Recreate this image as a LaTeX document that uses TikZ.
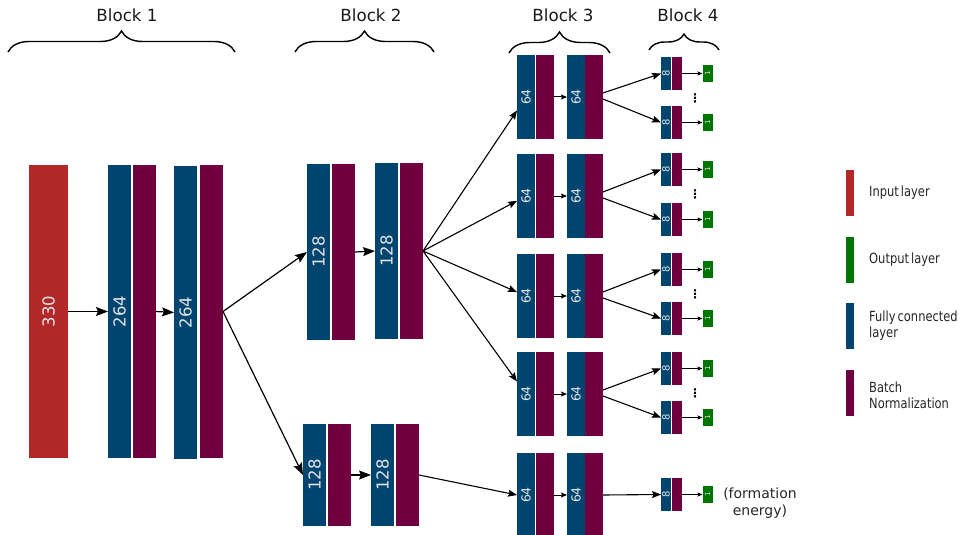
\documentclass[tikz,border=0pt]{standalone}
\usepackage{fontspec}
\setmainfont{DejaVu Sans}
\newfontfamily\legendfont{DejaVu Sans}[FakeStretch=0.82,WordSpace=0.55]
\usetikzlibrary{arrows.meta,decorations.pathreplacing,calc}
\definecolor{fcblue}{RGB}{0,68,112}
\definecolor{bnpurple}{RGB}{112,0,64}
\definecolor{inred}{RGB}{178,40,40}
\definecolor{outgreen}{RGB}{0,118,0}
\definecolor{numtext}{RGB}{228,228,228}
\begin{document}
\begin{tikzpicture}[x=1pt,y=-1pt,
 lyr/.style={inner sep=0pt, outer sep=0pt, text=numtext},
 fc/.style={lyr, fill=fcblue},
 bn/.style={lyr, fill=bnpurple},
 inp/.style={lyr, fill=inred},
 outp/.style={lyr, fill=outgreen},
 hTall/.style={minimum width=23pt, minimum height=293pt},
 hMid/.style={minimum width=23pt, minimum height=176pt},
 hLow/.style={minimum width=23pt, minimum height=102pt},
 hBthree/.style={minimum width=18pt, minimum height=84pt},
 hBfour/.style={minimum width=10pt, minimum height=33pt},
 hOut/.style={minimum width=10pt, minimum height=17pt},
 nBig/.style={font=\fontsize{16.5}{16.5}\selectfont},
 nMed/.style={font=\fontsize{12.5}{12.5}\selectfont},
 nSmall/.style={font=\fontsize{10}{10}\selectfont},
 nTiny/.style={font=\fontsize{7}{7}\selectfont},
 arrbig/.style={-{Stealth[length=12pt,width=9pt,inset=2pt]}, line width=1.2pt},
 arrmid/.style={-{Stealth[length=9pt,width=7pt,inset=1.5pt]}, line width=1.1pt},
 arrsmall/.style={-{Stealth[length=6pt,width=5pt,inset=1pt]}, line width=1pt},
 arrtiny/.style={-{Stealth[length=5pt,width=4pt,inset=1pt]}, line width=1pt},
 blockbrace/.style={decorate, decoration={brace, amplitude=#1}, line width=1.4pt},
 blocklabel/.style={font=\fontsize{16.7}{16.7}\selectfont, text=black!90},
 legtext/.style={anchor=west, inner sep=0pt, align=left, font=\legendfont\fontsize{14}{16}\selectfont, text=black!85},
 dotsym/.style={inner sep=0pt, font=\fontsize{12}{12}\selectfont\bfseries},
]
\useasboundingbox (0,0) rectangle (959,535);

% block labels and braces
\node[blocklabel] (l1) at (127,15) {Block 1};
\node[blocklabel] (l2) at (371,15) {Block 2};
\node[blocklabel] (l3) at (563,15) {Block 3};
\node[blocklabel] (l4) at (688,15) {Block 4};
\draw[blockbrace=21pt] (8,52) -- (235,52);
\draw[blockbrace=21pt] (295,52) -- (434,52);
\draw[blockbrace=21pt] (509,53) -- (610,53);
\draw[blockbrace=16pt] (649,50) -- (719,50);

% block 1
\node[inp, hTall, minimum width=39pt, nBig] (inp) at (48.5,311.5) {\rotatebox{90}{330}};
\node[fc, hTall, nBig] (f1) at (119.5,311.5) {\rotatebox{90}{264}};
\node[bn, hTall] (b1) at (144.5,311.5) {};
\node[fc, hTall, nBig] (f2) at (185.5,312.5) {\rotatebox{90}{264}};
\node[bn, hTall] (b2) at (211.5,311.5) {};
\draw[arrbig] (inp.east) -- (f1.west);
\draw[arrbig] (b1.east) -- (f2.west);

% block 2
\node[fc, hMid, nBig] (f3) at (318.5,252) {\rotatebox{90}{128}};
\node[bn, hMid] (b3) at (343.5,252) {};
\node[fc, hMid, nBig] (f4) at (386.5,251) {\rotatebox{90}{128}};
\node[bn, hMid] (b4) at (411.5,251) {};
\node[fc, hLow, nBig] (f5) at (314.5,475) {\rotatebox{90}{128}};
\node[bn, hLow] (b5) at (339.5,475) {};
\node[fc, hLow, nBig] (f6) at (382.5,475) {\rotatebox{90}{128}};
\node[bn, hLow] (b6) at (407.5,475) {};
\draw[arrbig] (b2.east) -- (f3.west);
\draw[arrbig] (b2.east) -- (f5.west);
\draw[arrbig] (b3.east) -- (f4.west);
\draw[arrbig] (b5.east) -- (f6.west);

% block 3
\foreach \r/\y in {1/97,2/196,3/296,4/394,5/495}{
  \node[fc, hBthree, nMed] (ra\r) at (526,\y) {\rotatebox{90}{64}};
  \node[bn, hBthree] (rb\r) at (545,\y) {};
  \node[fc, hBthree, nMed] (rc\r) at (576,\y) {\rotatebox{90}{64}};
  \node[bn, hBthree] (rd\r) at (594,\y) {};
  \draw[arrsmall] (rb\r.east) -- (rc\r.west);
}
\foreach \r in {1,2,3,4}{
  \draw[arrmid] (b4.east) -- (ra\r);
}
\draw[arrmid] (b6.east) -- (ra5.west);

% block 4
\foreach \r/\ya/\yb in {1/73.5/122.5,2/169.5/219.5,3/269.5/318.5,4/368.5/417.5}{
  \node[fc, hBfour, nSmall] (ea\r) at (666,\ya) {\rotatebox{90}{8}};
  \node[bn, hBfour] (eb\r) at (677,\ya) {};
  \node[fc, hBfour, nSmall] (ec\r) at (666,\yb) {\rotatebox{90}{8}};
  \node[bn, hBfour] (ed\r) at (677,\yb) {};
  \node[outp, hOut, nTiny] (ga\r) at (707.5,\ya) {\rotatebox{90}{1}};
  \node[outp, hOut, nTiny] (gb\r) at (707.5,\yb) {\rotatebox{90}{1}};
  \node[dotsym] (dt\r) at ($(ga\r.west)!0.5!(gb\r.west)+(-7.5,0)$) {⋮};
  \draw[arrmid] ($(rd\r.east)+(0,-4)$) -- (ea\r.west);
  \draw[arrmid] ($(rd\r.east)+(0,2)$) -- (ec\r.west);
  \draw[arrtiny] (eb\r.east) -- (ga\r.west);
  \draw[arrtiny] (ed\r.east) -- (gb\r.west);
}
\node[fc, hBfour, nSmall] (ea5) at (666,494.5) {\rotatebox{90}{8}};
\node[bn, hBfour] (eb5) at (677,494.5) {};
\node[outp, hOut, nTiny] (ga5) at (707.5,494.5) {\rotatebox{90}{1}};
\draw[arrmid] (rd5.east) -- (ea5.west);
\draw[arrtiny] (eb5.east) -- (ga5.west);
\node[align=center, font=\fontsize{14}{17}\selectfont, text=black!85] (fe) at (760,503.5) {(formation\\energy)};

% legend
\node[inp, minimum width=8pt, minimum height=46pt] (lg1) at (850,193) {};
\node[legtext] (lt1) at (869,193) {Input layer};
\node[outp, minimum width=8pt, minimum height=46pt] (lg2) at (850,260) {};
\node[legtext] (lt2) at (869,260) {Output layer};
\node[fc, minimum width=8pt, minimum height=46pt] (lg3) at (850,326) {};
\node[legtext] (lt3) at (869,326) {Fully connected\\layer};
\node[bn, minimum width=8pt, minimum height=46pt] (lg4) at (850,392.5) {};
\node[legtext] (lt4) at (869,395.5) {Batch\\Normalization};
\end{tikzpicture}
\end{document}
